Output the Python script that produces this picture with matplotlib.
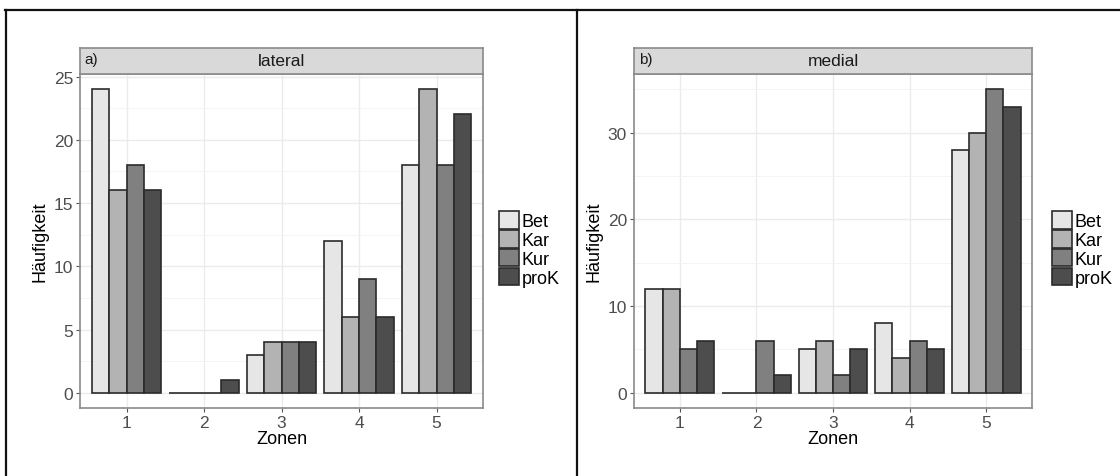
import numpy as np
import matplotlib.pyplot as plt
from matplotlib.lines import Line2D
from matplotlib.patches import Patch

plt.rcParams['font.family'] = ['Liberation Sans', 'DejaVu Sans']

# Häufigkeiten je Zone und Gruppe
zonen = ['1', '2', '3', '4', '5']
gruppen = ['Bet', 'Kar', 'Kur', 'proK']
lateral = {
    'Bet': [24, 0, 3, 12, 18],
    'Kar': [16, 0, 4, 6, 24],
    'Kur': [18, 0, 4, 9, 18],
    'proK': [16, 1, 4, 6, 22],
}
medial = {
    'Bet': [12, 0, 5, 8, 28],
    'Kar': [12, 0, 6, 4, 30],
    'Kur': [5, 6, 2, 6, 35],
    'proK': [6, 2, 5, 5, 33],
}
farben = ['#e6e6e6', '#b3b3b3', '#808080', '#4d4d4d']

W, H = 1120, 477
fig = plt.figure(figsize=(W / 100, H / 100), dpi=100)


def box(x0, y0, x1, y1):
    # Pixel (von oben) -> Figurkoordinaten
    return [x0 / W, 1 - y1 / H, (x1 - x0) / W, (y1 - y0) / H]


def panel(px, daten, tag, titel, yticks, yminor, legx):
    x0, x1 = px
    ax = fig.add_axes(box(x0, 75, x1, 409))
    ymax = max(max(v) for v in daten.values())
    ax.set_xlim(0.4, 5.6)
    ax.set_ylim(-0.05 * ymax, 1.05 * ymax)
    ax.set_facecolor('white')
    ax.set_yticks(yticks)
    ax.set_yticks(yminor, minor=True)
    ax.set_xticks(np.arange(1, 6))
    ax.set_xticklabels(zonen)
    ax.grid(which='major', color='#ebebeb', lw=1.0)
    ax.grid(which='minor', axis='y', color='#f2f2f2', lw=0.6)
    ax.set_axisbelow(True)
    ax.tick_params(which='major', length=3, color='#555555', labelsize=12.5,
                   labelcolor='#4d4d4d', pad=2)
    ax.tick_params(which='minor', length=0)
    for s in ax.spines.values():
        s.set_color('#8a8a8a')
        s.set_linewidth(1.2)

    x = np.arange(1, 6)
    bw = 0.9 / len(gruppen)
    for i, g in enumerate(gruppen):
        ax.bar(x - 0.45 + bw * (i + 0.5), daten[g], width=bw, color=farben[i],
               edgecolor='#2b2b2b', linewidth=1.2, zorder=3)

    ax.set_xlabel('Zonen', fontsize=13, labelpad=0)
    ax.set_ylabel('Häufigkeit', fontsize=13, labelpad=4)

    # Streifen mit Facettentitel
    st = fig.add_axes(box(x0, 49, x1, 75))
    st.set_facecolor('#d9d9d9')
    st.set_xticks([])
    st.set_yticks([])
    for s in st.spines.values():
        s.set_color('#8a8a8a')
        s.set_linewidth(1.2)
    st.text(0.5, 0.5, titel, ha='center', va='center', fontsize=12.5,
            color='#1a1a1a', transform=st.transAxes)
    st.text(0.012, 0.58, tag, ha='left', va='center', fontsize=11,
            color='#1a1a1a', transform=st.transAxes)

    handles = [Patch(facecolor=farben[i], edgecolor='#2b2b2b', linewidth=1.2)
               for i in range(len(gruppen))]
    fig.legend(handles, gruppen, loc='center left',
               bbox_to_anchor=(legx / W, 1 - 250 / H), frameon=False,
               fontsize=13, handlelength=1.1, handleheight=1.1,
               labelspacing=0.0, handletextpad=0.15, borderpad=0,
               borderaxespad=0)
    return ax


panel((80, 483), lateral, 'a)', 'lateral', np.arange(0, 26, 5),
      np.arange(2.5, 25, 5), 499)
panel((634, 1032), medial, 'b)', 'medial', np.arange(0, 31, 10),
      np.arange(5, 36, 10), 1052)

# Rahmen um die beiden Teilabbildungen
for xs, ys in [((5 / W, 1), (1 - 10.5 / H, 1 - 10.5 / H)),
               ((5.5 / W, 5.5 / W), (0, 1 - 10.5 / H)),
               ((577 / W, 577 / W), (0, 1 - 10.5 / H))]:
    fig.add_artist(Line2D(xs, ys, color='#111111', lw=1.6))

fig.savefig('out.png', dpi=100)
